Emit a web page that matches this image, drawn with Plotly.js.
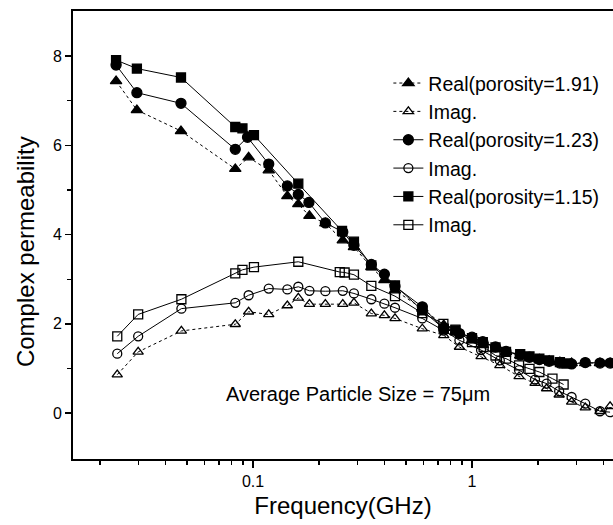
<!DOCTYPE html>
<html>
<head>
<meta charset="utf-8">
<script src="https://cdn.plot.ly/plotly-3.0.1.min.js"></script>
<style>html,body{margin:0;padding:0;background:#fff;}#chart{width:613px;height:525px;}</style>
</head>
<body>
<div id="chart"></div>
<script>
// Real, porosity = 1.91
const freqA = [0.0237,0.0295,0.0469,0.083,0.0955,0.118,0.1435,0.161,0.181,0.214,0.257,0.289,0.347,0.398,0.445,0.593,0.743,0.84,1.0,1.12,1.28,1.43,1.66,1.83,2.03,2.25,2.52,2.85,3.29,3.84,4.27];
const realA = [7.44,6.79,6.32,5.47,5.73,5.44,4.86,4.68,4.42,4.25,3.87,3.72,3.27,2.98,2.75,2.34,1.97,1.82,1.63,1.52,1.44,1.37,1.29,1.24,1.20,1.17,1.14,1.12,1.12,1.12,1.12];
// Real, porosity = 1.23
const freqB = [0.0237,0.0295,0.0469,0.083,0.0944,0.118,0.1435,0.161,0.180,0.214,0.257,0.289,0.347,0.398,0.445,0.593,0.743,0.876,1.0,1.12,1.28,1.43,1.66,1.83,2.03,2.25,2.52,2.85,3.29,3.84,4.27];
const realB = [7.80,7.18,6.94,5.91,6.18,5.58,5.09,4.90,4.72,4.26,4.06,3.76,3.33,3.11,2.84,2.38,1.89,1.78,1.70,1.60,1.48,1.38,1.30,1.25,1.20,1.16,1.12,1.10,1.13,1.12,1.12];
// Real, porosity = 1.15
const freqC = [0.0237,0.0295,0.0469,0.083,0.0895,0.101,0.161,0.255,0.289,0.347,0.445,0.593,0.743,0.84,1.0,1.12,1.28,1.43,1.66,1.83,2.03,2.25,2.52,2.7];
const realC = [7.91,7.72,7.52,6.41,6.38,6.23,5.14,4.08,3.84,3.31,2.86,2.30,1.89,1.85,1.68,1.59,1.47,1.37,1.32,1.27,1.22,1.18,1.14,1.11];
// Imag, porosity = 1.91
const freqD = [0.024,0.0299,0.0471,0.083,0.0955,0.118,0.1435,0.161,0.181,0.214,0.257,0.289,0.347,0.398,0.445,0.593,0.743,0.876,1.10,1.34,1.64,1.94,2.19,2.50,2.85,3.29,3.84,4.27];
const imagD = [0.86,1.37,1.84,1.99,2.27,2.21,2.41,2.58,2.44,2.44,2.44,2.47,2.23,2.19,2.12,1.89,1.74,1.48,1.27,1.07,0.82,0.67,0.55,0.41,0.25,0.12,0.04,0.15];
// Imag, porosity = 1.23
const freqE = [0.024,0.0299,0.0471,0.083,0.0955,0.118,0.1435,0.161,0.181,0.214,0.257,0.289,0.347,0.398,0.445,0.593,0.743,0.876,1.10,1.34,1.64,1.94,2.19,2.50,2.85,3.29,3.84,4.27];
const imagE = [1.33,1.72,2.34,2.47,2.64,2.79,2.77,2.83,2.74,2.73,2.74,2.68,2.55,2.45,2.36,2.12,1.85,1.63,1.41,1.18,0.96,0.75,0.66,0.49,0.36,0.21,0.04,0.02];
// Imag, porosity = 1.15
const freqF = [0.024,0.0299,0.0471,0.083,0.0895,0.101,0.161,0.249,0.262,0.289,0.347,0.445,0.593,0.74,0.84,1.0,1.13,1.28,1.43,1.64,1.83,2.03,2.33,2.62];
const imagF = [1.72,2.21,2.55,3.13,3.21,3.27,3.39,3.16,3.15,3.10,2.85,2.62,2.24,2.00,1.87,1.59,1.48,1.29,1.22,1.07,0.99,0.92,0.77,0.64];

const seriesNames = ['Real(porosity=1.91)','Imag.','Real(porosity=1.23)','Imag.','Real(porosity=1.15)','Imag.'];
const majorTicks = [0.1, 1];
const majorTickText = ['0.1', '1'];
const minorTicks = [0.02,0.03,0.04,0.05,0.06,0.07,0.08,0.09,0.2,0.3,0.4,0.5,0.6,0.7,0.8,0.9,2,3,4];
const xTitle = 'Frequency(GHz)';
const yTitle = 'Complex permeability';
const annotationText = 'Average Particle Size = 75\u03bcm';

const FONT = '"Liberation Sans", Arial, sans-serif';

function tr(x, y, name, symbol, dash, size, group) {
  return {
    x: x, y: y, name: name, type: 'scatter', mode: 'lines+markers',
    legendgroup: group,
    line: {color: '#000', width: 1, dash: dash},
    marker: {symbol: symbol, size: size, color: '#000', line: {color: '#000', width: 1.3}},
    cliponaxis: true
  };
}

const data = [
  tr(freqA, realA, seriesNames[0], 'triangle-up', 'dot', 10, 'g0'),
  tr(freqD, imagD, seriesNames[1], 'triangle-up-open', 'dot', 9, 'g1'),
  tr(freqB, realB, seriesNames[2], 'circle', 'solid', 10, 'g2'),
  tr(freqE, imagE, seriesNames[3], 'circle-open', 'solid', 9, 'g3'),
  tr(freqC, realC, seriesNames[4], 'square', 'solid', 9, 'g4'),
  tr(freqF, imagF, seriesNames[5], 'square-open', 'solid', 9, 'g5')
];

const layout = {
  width: 613, height: 525,
  margin: {l: 73, r: 0, t: 11, b: 66},
  paper_bgcolor: '#fff', plot_bgcolor: '#fff',
  font: {family: FONT, color: '#000', size: 16},
  showlegend: true,
  legend: {
    x: 0.584, y: 0.882, xanchor: 'left', yanchor: 'top',
    bgcolor: 'rgba(0,0,0,0)', borderwidth: 0,
    traceorder: 'grouped', tracegroupgap: 0,
    font: {family: FONT, size: 19.5, color: '#000'},
    itemwidth: 30
  },
  xaxis: {
    type: 'log',
    range: [-1.8219, 0.6438],
    showgrid: false, zeroline: false,
    showline: true, linecolor: '#000', linewidth: 2, mirror: true,
    ticks: 'outside', ticklen: 7, tickwidth: 1.5, tickcolor: '#000',
    tickmode: 'array', tickvals: majorTicks, ticktext: majorTickText,
    tickfont: {family: FONT, size: 16},
    minor: {tickmode: 'array', tickvals: minorTicks, ticks: 'outside', ticklen: 4, tickwidth: 1.2, tickcolor: '#000', showgrid: false},
    title: {text: xTitle, font: {family: FONT, size: 24}, standoff: 8}
  },
  yaxis: {
    range: [-1.03, 9.01],
    showgrid: false, zeroline: false,
    showline: true, linecolor: '#000', linewidth: 2,
    ticks: 'outside', ticklen: 6, tickwidth: 1.5, tickcolor: '#000',
    tickmode: 'array', tickvals: [0,2,4,6,8],
    tickfont: {family: FONT, size: 16},
    minor: {tickmode: 'array', tickvals: [1,3,5,7], ticks: 'outside', ticklen: 4, tickwidth: 1.2, tickcolor: '#000', showgrid: false}
  },
  annotations: [{
    text: annotationText, xref: 'paper', yref: 'y', x: 0.528, y: 0.42,
    xanchor: 'center', yanchor: 'middle', showarrow: false,
    font: {family: FONT, size: 20, color: '#000'}
  }, {
    text: yTitle, xref: 'paper', yref: 'paper', x: -0.089, y: 0.464,
    xanchor: 'center', yanchor: 'middle', textangle: -90, showarrow: false,
    font: {family: FONT, size: 24, color: '#000'}
  }]
};

Plotly.newPlot('chart', data, layout, {displayModeBar: false, staticPlot: true});
</script>
</body>
</html>
